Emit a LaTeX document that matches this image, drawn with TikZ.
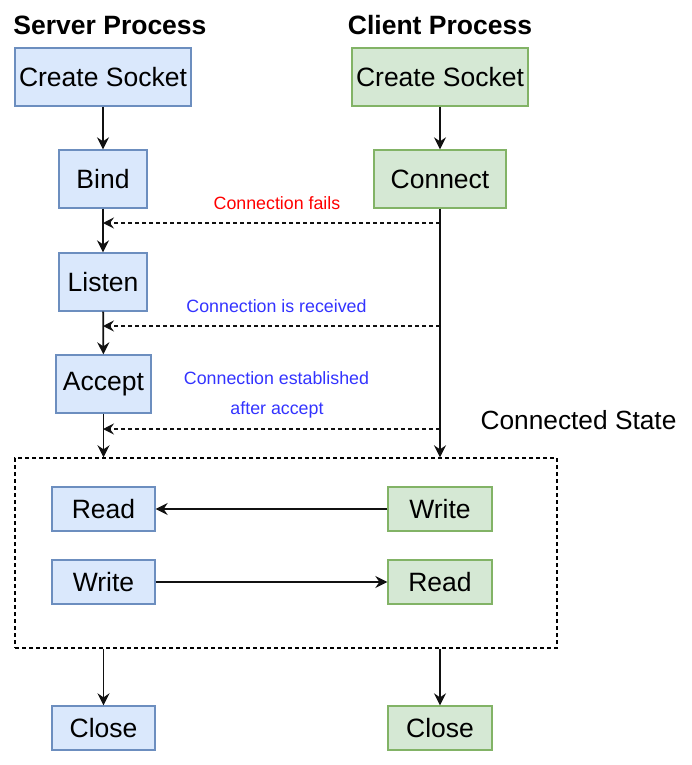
\documentclass[tikz,border=0pt]{standalone}
\usepackage{fontspec}
\setmainfont{Liberation Sans}
\usetikzlibrary{arrows.meta}
\definecolor{sfill}{HTML}{DAE8FC}
\definecolor{sdraw}{HTML}{6C8EBF}
\definecolor{cfill}{HTML}{D5E8D4}
\definecolor{cdraw}{HTML}{82B366}
\definecolor{lblred}{HTML}{FF0000}
\definecolor{lblblue}{HTML}{3333FF}
\definecolor{lnk}{HTML}{111111}
\begin{document}
\begin{tikzpicture}[x=1pt,y=-1pt,
  boxtext/.style={inner sep=0pt, line width=1.3pt, font=\fontsize{26.5}{30}\selectfont},
  sbox/.style={boxtext, draw=sdraw, fill=sfill},
  cbox/.style={boxtext, draw=cdraw, fill=cfill},
  title/.style={inner sep=0pt, font=\fontsize{26.5}{30}\selectfont\bfseries},
  lbl/.style={inner sep=0pt, font=\fontsize{17.8}{20}\selectfont},
  arr/.style={-{Stealth[length=12pt,width=12pt,inset=4pt]}, line width=1.8pt, draw=lnk},
  darr/.style={-{Stealth[length=11pt,width=11pt,inset=4pt]}, draw=lnk, dash pattern=on 4pt off 3pt, line width=1.4pt},
  region/.style={draw=black, line width=1.4pt, dash pattern=on 4pt off 3pt, inner sep=0pt}
]
\useasboundingbox (0,0) rectangle (692,765);

% titles
\node[title] (tserv) at (110,25) {Server Process};
\node[title] (tcli) at (440,25) {Client Process};

% server column
\node[sbox, minimum width=176pt, minimum height=58pt] (scs) at (103,77) {Create Socket};
\node[sbox, minimum width=88pt, minimum height=58pt] (bind) at (103,179) {Bind};
\node[sbox, minimum width=88pt, minimum height=58pt] (listen) at (103,282) {Listen};
\node[sbox, minimum width=95pt, minimum height=58pt] (accept) at (103.5,384) {Accept};

% client column
\node[cbox, minimum width=176pt, minimum height=58pt] (ccs) at (440,77) {Create Socket};
\node[cbox, minimum width=132pt, minimum height=58pt] (conn) at (440,179) {Connect};

% connected state region
\node[region, minimum width=542pt, minimum height=190pt] (state) at (286,553) {};
\node[inner sep=0pt, font=\fontsize{26.3}{30}\selectfont] (statelbl) at (578.5,420) {Connected State};

\node[sbox, minimum width=103pt, minimum height=44pt] (sread) at (103.5,509) {Read};
\node[sbox, minimum width=103pt, minimum height=44pt] (swrite) at (103.5,582) {Write};
\node[cbox, minimum width=104pt, minimum height=44pt] (cwrite) at (440,509) {Write};
\node[cbox, minimum width=104pt, minimum height=44pt] (cread) at (440,582) {Read};

\node[sbox, minimum width=103pt, minimum height=44pt] (sclose) at (103.5,728) {Close};
\node[cbox, minimum width=104pt, minimum height=44pt] (cclose) at (440,728) {Close};

% server flow
\draw[arr] (scs) -- (bind);
\draw[arr] (bind) -- (listen);
\draw[arr] (listen) -- (accept);
\draw[arr] (accept.south) -- (accept.south |- state.north);

% client flow
\draw[arr] (ccs) -- (conn);
\draw[arr] (conn.south) -- (conn.south |- state.north);

% dashed messages
\coordinate (c1) at (440,223);
\coordinate (c2) at (440,326);
\coordinate (c3) at (440,429);
\coordinate (s1) at (103,223);
\coordinate (s2) at (103,326);
\coordinate (s3) at (103,429);
\draw[darr] (c1) -- (s1);
\draw[darr] (c2) -- (s2);
\draw[darr] (c3) -- (s3);

\node[lbl, text=lblred] (l1) at (277,203) {Connection fails};
\node[lbl, text=lblblue] (l2) at (276.5,306) {Connection is received};
\node[lbl, text=lblblue] (l3) at (276.5,378) {Connection established};
\node[lbl, text=lblblue] (l4) at (277,410) {after accept};

% data exchange
\draw[arr] (cwrite) -- (sread);
\draw[arr] (swrite) -- (cread);

% close
\draw[arr] (state.south -| sclose) -- (sclose);
\draw[arr] (state.south -| cclose) -- (cclose);
\end{tikzpicture}
\end{document}
